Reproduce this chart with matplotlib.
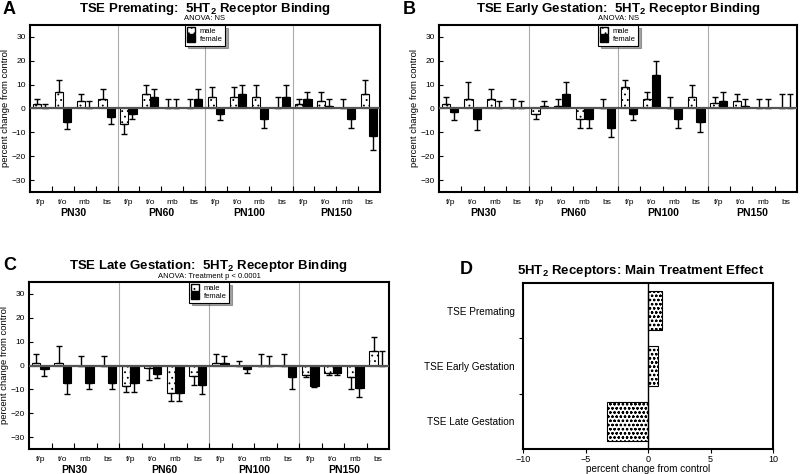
import numpy as np
import matplotlib
matplotlib.use('Agg')
import matplotlib.pyplot as plt
from matplotlib.patches import Patch

plt.rcParams['font.family'] = ['Liberation Sans', 'DejaVu Sans']
plt.rcParams['mathtext.fontset'] = 'custom'
plt.rcParams['mathtext.rm'] = 'Liberation Sans'
plt.rcParams['mathtext.bf'] = 'Liberation Sans:bold'
plt.rcParams['hatch.linewidth'] = 0.6

regions = ['f/p', 't/o', 'mb', 'bs']
ages = ['PN30', 'PN60', 'PN100', 'PN150']

# panel A: TSE premating (16 = 4 ages x 4 regions)
a_male = [2, 7, 3, 4, -6.5, 6, 0, 0, 5, 5, 5, 0, 1.8, 3, 0, 6]
a_male_err = [2, 5, 3, 4, 4, 4, 4, 4, 4, 4, 5, 5, 2.2, 4, 4, 6]
a_female = [0, -5.5, 0, -3.5, -2.5, 5, 0, 4, -2.4, 6, -4.5, 5, 4, 1, -4.5, -11.5]
a_female_err = [2, 3, 3, 3, 2, 3, 4, 4, 2.6, 4, 3.5, 5, 3, 3, 3.5, 6]

# panel B: TSE early gestation
b_male = [2, 4, 4, 0, -2.5, 1, -4.5, 0, 9, 4, 0, 5, 2.5, 3, 0, 0]
b_male_err = [3, 7, 4, 4, 1.8, 3, 3.5, 4, 3, 3, 5, 5, 2.5, 3, 4, 6]
b_female = [-1.5, -4.5, 0, 0, 1, 6, -4.5, -8, -2.5, 14, -4.5, -5.5]
b_female += [3, 1, 0, 0]
b_female_err = [3.5, 4.5, 3, 3, 2, 5, 3.5, 4, 2.5, 6, 3.5, 4.5, 4, 3, 4, 6]

# panel C: TSE late gestation
c_male = [1, 1, 0, 0, -8.5, -1, -11.5, -4.5, 1, 0, 0, 0, -4, -3, -5, 6]
c_male_err = [4, 7, 4, 4, 2.5, 5, 3.5, 3.5, 4, 2, 5, 5, 1, 1, 5, 6]
c_female = [-1.4, -7.5, -7.5, -7.5, -7.5, -3.5, -11.5, -8.3, 1, -1.5, 0, -5]
c_female += [-8.5, -3, -9.5, 0]
c_female_err = [2.8, 4.5, 2.5, 2.5, 3.5, 1.8, 3.5, 3.7, 3, 1.5, 4, 5, 0.5, 1, 3.5, 6]

# panel D: main treatment effect
d_groups = ['TSE Premating', 'TSE Early Gestation', 'TSE Late Gestation']
d_values = [1.1, 0.8, -3.3]

W, H = 800, 474


def rect(l, t, r, b):
    return [l / W, 1 - b / H, (r - l) / W, (b - t) / H]


def one_sided(vals, errs):
    vals = np.array(vals, dtype=float)
    errs = np.array(errs, dtype=float)
    up = np.where(vals >= 0, errs, 0)
    lo = np.where(vals < 0, errs, 0)
    return [lo, up]


def binding_panel(fig, box, letter, letter_x, title, anova,
                  male, male_err, female, female_err):
    ax = fig.add_axes(rect(*box))
    x = np.arange(16)
    w = 0.37
    ax.bar(x - w / 2, male, w, color='white', edgecolor='black', hatch='...',
           linewidth=0.8, yerr=one_sided(male, male_err), capsize=2.2,
           error_kw={'elinewidth': 1, 'capthick': 1}, zorder=3)
    ax.bar(x + w / 2, female, w, color='black', edgecolor='black',
           linewidth=0.8, yerr=one_sided(female, female_err), capsize=2.2,
           error_kw={'elinewidth': 1, 'capthick': 1}, zorder=3)
    ax.axhline(0, color='#555555', linewidth=1.6, zorder=4)
    for b in [3.5, 7.5, 11.5]:
        ax.axvline(b, color='#aaaaaa', linewidth=0.8, zorder=1)
    ax.set_xlim(-0.5, 15.5)
    ax.set_ylim(-35, 35)
    ax.set_yticks([-30, -20, -10, 0, 10, 20, 30])
    ax.tick_params(axis='y', labelsize=6, length=3, width=0.8, direction='in', pad=3)
    ax.set_xticks(x)
    ax.set_xticklabels(regions * 4, fontsize=6)
    ax.tick_params(axis='x', which='major', length=0, pad=5)
    ax.set_xticks(np.arange(0.5, 15, 1), minor=True)
    ax.tick_params(axis='x', which='minor', direction='in', length=4, width=0.8)
    for i, a in enumerate(ages):
        ax.text(4 * i + 1.5, -0.128, a, transform=ax.get_xaxis_transform(),
                ha='center', va='center', fontsize=7.5, fontweight='bold')
    ax.set_ylabel('percent change from control', fontsize=6.8, labelpad=1)
    for s in ax.spines.values():
        s.set_linewidth(1.5)
    handles = [Patch(facecolor='white', edgecolor='black', hatch='...', label='male'),
               Patch(facecolor='black', edgecolor='black', label='female')]
    leg = ax.legend(handles=handles, loc='upper center', bbox_to_anchor=(0.5, 1.0),
                    fontsize=5.5, frameon=True, fancybox=False, shadow=True,
                    handlelength=1.0, handleheight=0.9, labelspacing=0.05,
                    borderpad=0.3, handletextpad=0.6, borderaxespad=0)
    leg.get_frame().set_edgecolor('black')
    leg.get_frame().set_linewidth(0.8)
    cx = (box[0] + box[2]) / 2
    dy = box[1] - 25
    fig.text(cx / W, 1 - (9 + dy) / H, title, ha='center', va='center',
             fontsize=9.5, fontweight='bold')
    fig.text(cx / W, 1 - (19 + dy) / H, anova, ha='center', va='center',
             fontsize=5.5)
    fig.text(letter_x / W, 1 - (9 + dy) / H, letter, ha='left', va='center',
             fontsize=13, fontweight='bold')
    return ax


fig = plt.figure(figsize=(8, 4.74), dpi=100)

binding_panel(fig, (30, 25, 380, 192), 'A', 3,
              r'TSE Premating:  5HT$_\mathbf{2}$ Receptor Binding', 'ANOVA: NS',
              a_male, a_male_err, a_female, a_female_err)
binding_panel(fig, (439, 25, 797, 192), 'B', 403,
              r'TSE Early Gestation:  5HT$_\mathbf{2}$ Receptor Binding', 'ANOVA: NS',
              b_male, b_male_err, b_female, b_female_err)
binding_panel(fig, (29, 282, 389, 449), 'C', 3,
              r'TSE Late Gestation:  5HT$_\mathbf{2}$ Receptor Binding',
              'ANOVA: Treatment p < 0.0001',
              c_male, c_male_err, c_female, c_female_err)

# panel D
axd = fig.add_axes(rect(523, 283, 773, 449))
yd = np.arange(len(d_groups))[::-1]
axd.barh(yd, d_values, 0.71, color='white', edgecolor='black', hatch='oooo',
         linewidth=0.8, zorder=3)
axd.axvline(0, color='black', linewidth=1.0, zorder=4)
axd.set_xlim(-10, 10)
axd.set_ylim(-0.5, 2.5)
axd.set_xticks([-10, -5, 0, 5, 10])
axd.tick_params(axis='x', labelsize=6.5, length=3, width=0.8, pad=1)
axd.set_yticks(yd)
axd.set_yticklabels(d_groups, fontsize=7.2)
axd.tick_params(axis='y', which='major', length=0, pad=6)
axd.set_yticks([0.5, 1.5], minor=True)
axd.tick_params(axis='y', which='minor', direction='out', length=3, width=0.8)
axd.set_xlabel('percent change from control', fontsize=7.2, labelpad=0)
for s in axd.spines.values():
    s.set_linewidth(1.5)
fig.text(641 / W, 1 - 271 / H, r'5HT$_\mathbf{2}$ Receptors: Main Treatment Effect',
         ha='center', va='center', fontsize=9.5, fontweight='bold')
fig.text(460 / W, 1 - 270 / H, 'D', ha='left', va='center', fontsize=13,
         fontweight='bold')

fig.savefig('out.png', dpi=100)
